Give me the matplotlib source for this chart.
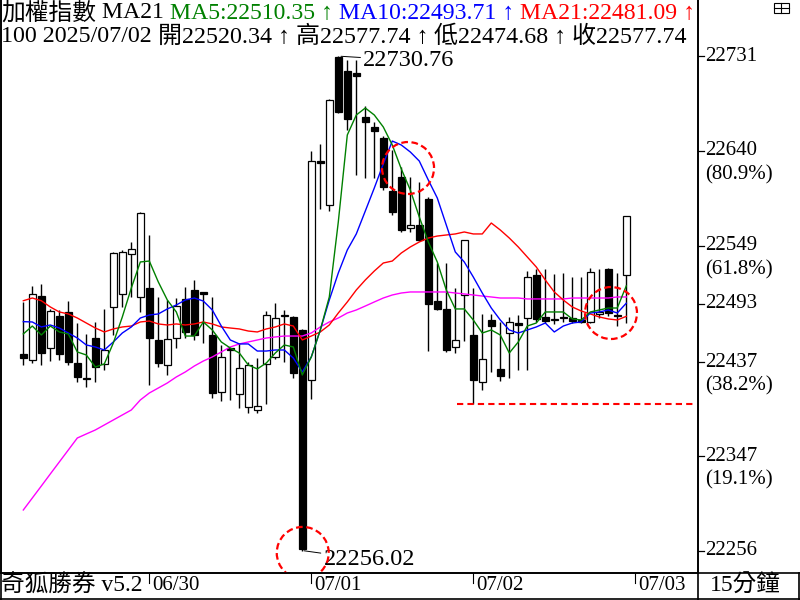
import numpy as np
import matplotlib
matplotlib.use("Agg")
import matplotlib.pyplot as plt
from matplotlib.patches import Ellipse, Rectangle
from matplotlib.lines import Line2D

plt.rcParams['font.family'] = ['Liberation Serif', 'Noto Sans CJK TC', 'DejaVu Sans']

# 加權指數 15分K (06/27 尾盤 ~ 07/02)
opens = [22445.0, 22439.2, 22500.6, 22450.7, 22481.4, 22485.3, 22436.3, 22421.0, 22460.3, 22435.4,
         22490.1, 22502.6, 22541.0, 22499.7, 22508.3, 22458.4, 22434.4, 22460.3, 22497.8, 22506.4,
         22504.5, 22463.2, 22408.5, 22450.7, 22406.6, 22394.1, 22391.2, 22435.4, 22442.1, 22481.4,
         22480.5, 22468.0, 22420.0, 22630.2, 22588.0, 22730.0, 22716.6, 22714.7, 22672.5, 22662.9,
         22652.3, 22601.4, 22614.9, 22565.9, 22568.8, 22593.8, 22495.8, 22488.2, 22451.7, 22501.6,
         22463.2, 22418.1, 22477.6, 22430.6, 22465.1, 22474.7, 22479.5, 22520.8, 22480.5, 22477.6,
         22480.5, 22479.5, 22477.6, 22475.7, 22483.4, 22526.6, 22482.4, 22520.34]
highs = [22494.9, 22510.2, 22512.2, 22488.2, 22487.2, 22495.8, 22474.7, 22464.2, 22475.7, 22488.2,
         22542.9, 22544.8, 22552.5, 22581.0, 22559.2, 22499.7, 22496.8, 22498.7, 22509.3, 22516.0,
         22504.5, 22499.7, 22453.6, 22450.7, 22455.5, 22437.3, 22441.1, 22486.2, 22493.9, 22487.2,
         22481.0, 22468.5, 22639.8, 22646.6, 22690.0, 22730.76, 22727.2, 22727.2, 22683.0, 22667.7,
         22654.2, 22640.8, 22624.5, 22614.9, 22610.1, 22595.7, 22532.3, 22532.3, 22508.3, 22554.4,
         22508.3, 22483.4, 22483.4, 22475.7, 22480.5, 22482.4, 22524.6, 22526.6, 22526.6, 22521.8,
         22522.7, 22518.9, 22518.9, 22527.5, 22526.6, 22527.5, 22522.7, 22577.74]
lows = [22434.4, 22436.3, 22434.4, 22438.2, 22439.2, 22434.4, 22418.1, 22413.3, 22418.1, 22429.6,
        22463.2, 22490.1, 22499.7, 22485.3, 22415.2, 22432.5, 22424.8, 22450.7, 22460.3, 22458.4,
        22455.5, 22402.7, 22399.8, 22400.8, 22393.1, 22388.3, 22388.3, 22397.0, 22440.2, 22437.3,
        22421.9, 22256.02, 22401.8, 22584.2, 22582.2, 22676.0, 22660.0, 22616.8, 22613.9, 22613.9,
        22602.4, 22578.4, 22562.1, 22562.1, 22553.4, 22447.8, 22487.2, 22446.9, 22445.9, 22457.4,
        22397.0, 22410.4, 22427.7, 22419.0, 22421.9, 22429.6, 22429.6, 22475.7, 22474.7, 22473.8,
        22475.7, 22474.7, 22474.8, 22475.0, 22479.5, 22481.4, 22471.8, 22474.68]
closes = [22441.1, 22502.6, 22445.9, 22486.2, 22445.0, 22437.3, 22422.9, 22421.4, 22432.5, 22448.8,
          22541.9, 22542.9, 22545.8, 22580.3, 22460.3, 22436.3, 22459.4, 22491.0, 22466.1, 22463.2,
          22502.6, 22407.5, 22442.1, 22448.8, 22431.5, 22434.4, 22395.0, 22482.4, 22479.5, 22481.8,
          22426.7, 22257.8, 22630.2, 22628.3, 22688.8, 22677.3, 22670.6, 22711.8, 22667.7, 22659.0,
          22605.3, 22581.3, 22564.0, 22568.8, 22554.4, 22493.0, 22488.2, 22448.8, 22458.4, 22554.4,
          22420.0, 22440.2, 22471.8, 22423.8, 22475.7, 22472.8, 22518.9, 22478.6, 22476.6, 22477.9,
          22479.5, 22476.6, 22475.7, 22523.6, 22485.3, 22484.3, 22481.4, 22577.74]

ma5 = [22464.2, 22471.8, 22463.2, 22471.8, 22466.1, 22464.2, 22446.9, 22444.0, 22432.5, 22435.4,
       22455.5, 22480.5, 22508.3, 22533.3, 22534.2, 22514.1, 22496.8, 22485.3, 22462.2, 22462.2,
       22475.7, 22468.0, 22456.5, 22450.7, 22445.9, 22434.4, 22430.6, 22436.3, 22445.9, 22453.6,
       22451.7, 22424.8, 22442.1, 22468.0, 22499.7, 22571.7, 22655.2, 22674.4, 22681.1, 22674.4,
       22662.9, 22645.6, 22622.6, 22602.4, 22576.5, 22552.5, 22533.3, 22506.4, 22488.2, 22488.2,
       22477.6, 22465.1, 22468.0, 22463.2, 22445.9, 22456.5, 22471.8, 22474.7, 22485.3, 22485.3,
       22485.3, 22478.6, 22477.6, 22485.3, 22487.2, 22489.1, 22489.1, 22510.35]
ma10 = [22476.0, 22475.7, 22470.9, 22472.8, 22469.9, 22465.1, 22460.3, 22453.6, 22451.7, 22448.8,
        22456.5, 22465.1, 22470.9, 22479.5, 22482.4, 22483.4, 22488.2, 22492.0, 22496.8, 22498.7,
        22495.8, 22487.2, 22471.8, 22458.4, 22454.6, 22454.6, 22447.8, 22447.8, 22448.8, 22448.8,
        22441.1, 22427.7, 22442.1, 22468.0, 22496.8, 22522.7, 22544.8, 22560.2, 22582.2, 22604.3,
        22627.4, 22649.4, 22645.6, 22638.9, 22630.2, 22612.0, 22594.7, 22568.8, 22542.9, 22533.3,
        22518.9, 22503.5, 22489.1, 22477.6, 22468.0, 22465.1, 22468.0, 22470.9, 22474.7, 22466.1,
        22471.8, 22474.7, 22475.7, 22484.3, 22485.3, 22487.2, 22484.3, 22493.71]
ma21 = [22496.1, 22498.7, 22496.1, 22490.1, 22485.3, 22483.4, 22479.5, 22474.7, 22469.9, 22466.1,
        22469.0, 22470.9, 22471.8, 22475.7, 22476.6, 22473.8, 22472.8, 22473.8, 22472.8, 22473.8,
        22475.7, 22473.8, 22470.9, 22469.9, 22469.0, 22467.0, 22466.1, 22469.0, 22470.9, 22473.8,
        22471.8, 22458.4, 22462.2, 22466.1, 22472.8, 22484.3, 22494.9, 22506.4, 22516.0, 22524.6,
        22532.3, 22534.2, 22541.9, 22547.7, 22552.5, 22556.3, 22558.2, 22559.2, 22560.2, 22562.1,
        22560.2, 22560.2, 22570.7, 22564.0, 22556.3, 22547.7, 22538.1, 22528.5, 22516.0, 22504.5,
        22496.8, 22490.1, 22486.2, 22483.4, 22480.5, 22478.6, 22477.6, 22481.09]
ma_long = [22295.2, 22306.7, 22318.2, 22329.8, 22341.3, 22352.8, 22364.3, 22368.2, 22372.0, 22376.8,
           22381.6, 22386.4, 22391.2, 22400.8, 22407.5, 22412.3, 22417.1, 22422.9, 22427.7, 22433.4,
           22438.2, 22442.1, 22446.9, 22451.7, 22454.6, 22456.5, 22458.4, 22460.3, 22461.3, 22462.2,
           22462.2, 22462.2, 22465.1, 22470.9, 22475.7, 22479.5, 22484.3, 22487.2, 22491.0, 22494.9,
           22498.7, 22501.6, 22503.5, 22504.5, 22504.5, 22504.5, 22504.5, 22504.5, 22503.5, 22502.6,
           22501.6, 22500.6, 22499.7, 22498.7, 22498.7, 22498.7, 22497.8, 22497.8, 22497.8, 22497.8,
           22497.8, 22498.7, 22498.7, 22498.7, 22498.7, 22498.7, 22499.7, 22499.7]

day_labels = ['06/30', '07/01', '07/02', '07/03']
day_start = [14, 32, 50, 68]

axis_ticks = [22731, 22640, 22549, 22493, 22437, 22347, 22256]
axis_pct = ['', '(80.9%)', '(61.8%)', '', '(38.2%)', '(19.1%)', '']

# 標記圈 (K棒序號, 價位)
circles = [(42.75, 22623.5), (65.3, 22484.3), (31.05, 22254.0)]

W, H = 800, 600
fig = plt.figure(figsize=(8, 6), dpi=100)
ax = fig.add_axes([1 / W, 27 / H, 697 / W, 573 / H])

x = np.arange(len(opens))
o = np.array(opens); c = np.array(closes)
hi = np.array(highs); lo = np.array(lows)
up = c >= o
bot = np.minimum(o, c)
hgt = np.maximum(np.abs(c - o), 0.8)

ax.vlines(x, lo, hi, color='black', lw=1.0, zorder=2)
ax.bar(x[up], hgt[up], bottom=bot[up], width=0.72, color='white', edgecolor='black', lw=0.9, zorder=3)
ax.bar(x[~up], hgt[~up], bottom=bot[~up], width=0.72, color='black', edgecolor='black', lw=0.9, zorder=3)

ax.plot(x, ma_long, color='#ff00ff', lw=1.0, zorder=4)
ax.plot(x, ma21, color='#ff0000', lw=1.0, zorder=4)
ax.plot(x, ma10, color='#0000ff', lw=1.0, zorder=5)
ax.plot(x, ma5, color='#008000', lw=1.0, zorder=6)

ax.set_xlim(-2.48, 74.97)
ax.set_ylim(22234.7, 22784.8)
ax.set_xticks([])
ax.set_yticks([])
ax.spines['top'].set_visible(False)
for s in ['left', 'right', 'bottom']:
    ax.spines[s].set_linewidth(1.2)

# 最高/最低標註
ax.annotate(f"{highs[35]:.2f}", xy=(35.3, highs[35]), xytext=(16, -3), textcoords='offset points',
            fontsize=17.5, va='center', ha='left', arrowprops=dict(arrowstyle='-', lw=0.7, shrinkA=0, shrinkB=0))
ax.annotate(f"{lows[31]:.2f}", xy=(31.2, lows[31]), xytext=(14, -6.5), textcoords='offset points',
            fontsize=17.5, va='center', ha='left', arrowprops=dict(arrowstyle='-', lw=0.7, shrinkA=0, shrinkB=0))

# 紅色虛線圈
for cx, cy in circles:
    ax.add_patch(Ellipse((cx, cy), width=(2 * 26) / 9, height=2 * 26 * 0.96, fill=False,
                         edgecolor='#ff0000', lw=1.6, ls=(0, (3, 1.6)), zorder=8))
# 低點支撐虛線
ax.plot([48.2, 74.4], [lows[50], lows[50]], color='#ff0000', lw=1.5, ls=(0, (3, 2)), zorder=8)

# 右側價格座標
ytr = ax.get_yaxis_transform()
for v, pct in zip(axis_ticks, axis_pct):
    ax.plot([1.0, 1.009], [v, v], transform=ytr, color='black', lw=0.9, clip_on=False)
    ax.text(1.0105, v, str(v), transform=ytr, fontsize=15, va='center', ha='left', clip_on=False)
    if pct:
        ax.text(1.0105, v - 24 * 0.96, pct, transform=ytr, fontsize=15, va='center', ha='left', clip_on=False)

# 日期
xtr = ax.get_xaxis_transform()
for d, k in zip(day_labels, day_start):
    ax.plot([k, k], [0, -10 / 573], transform=xtr, color='black', lw=0.8, clip_on=False)
    ax.text(k + 0.35, -13 / 573, d, transform=xtr, fontsize=15, va='center', ha='left', clip_on=False)

# 外框線
def hline(y, x0=0, x1=W, lw=1.2):
    fig.add_artist(Line2D([x0 / W, x1 / W], [1 - y / H, 1 - y / H], color='black', lw=lw))

def vline(xp, y0=0, y1=H, lw=1.2):
    fig.add_artist(Line2D([xp / W, xp / W], [1 - y0 / H, 1 - y1 / H], color='black', lw=lw))

hline(573)
hline(598.5)
vline(698)
vline(1)
vline(798.5, 573, 600)

fig.text(1 / W, 1 - 586 / H, "奇狐勝券 v5.2", fontsize=17, va='center', ha='left')
fig.text(710 / W, 1 - 586 / H, "15分鐘", fontsize=17, va='center', ha='left')

# 右上角小圖示
fig.add_artist(Rectangle((774 / W, 1 - 13 / H), 15 / W, 10 / H, fill=False, edgecolor='black', lw=0.8))
fig.add_artist(Line2D([774 / W, 789 / W], [1 - 8 / H, 1 - 8 / H], color='black', lw=0.8))
fig.add_artist(Line2D([781 / W, 781 / W], [1 - 3 / H, 1 - 13 / H], color='black', lw=0.8))

# 標題列
fig.canvas.draw()
renderer = fig.canvas.get_renderer()


def chain(segments, x0, yc, size):
    xp = x0
    for s, col in segments:
        t = fig.text(xp / W, 1 - yc / H, s, color=col, fontsize=size, va='center', ha='left')
        xp = t.get_window_extent(renderer).x1


chain([("加權指數", 'black'), (" MA21", 'black'), (" MA5:22510.35 ↑", '#008000'),
       (" MA10:22493.71 ↑", '#0000ff'), (" MA21:22481.09 ↑", '#ff0000')], 1, 13, 17.1)
chain([("100 2025/07/02", 'black'), (" 開22520.34 ↑", 'black'), (" 高22577.74 ↑", 'black'),
       (" 低22474.68 ↑", 'black'), (" 收22577.74", 'black')], 1, 37, 17.3)

fig.savefig('out.png', dpi=100)
